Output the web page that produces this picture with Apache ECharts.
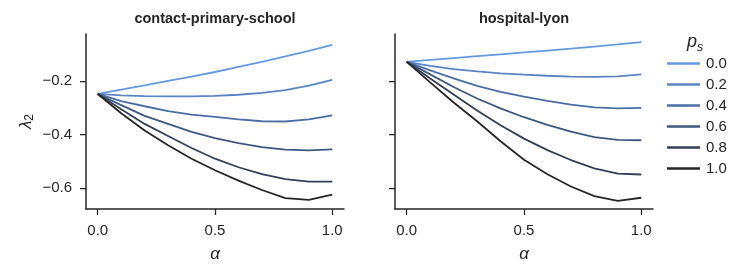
<!DOCTYPE html>
<html>
<head>
<meta charset="utf-8">
<script src="https://cdn.jsdelivr.net/npm/echarts@6/dist/echarts.min.js"></script>
<style>
html,body{margin:0;padding:0;background:#fff;}
#chart{width:747px;height:277px;}
</style>
</head>
<body>
<div id="chart"></div>
<script>
// ---- data ----
const alpha = [0, 0.1, 0.2, 0.3, 0.4, 0.5, 0.6, 0.7, 0.8, 0.9, 1.0];
const psLabels = ['0.0', '0.2', '0.4', '0.6', '0.8', '1.0'];
const panelTitles = ['contact-primary-school', 'hospital-lyon'];
const xTicks = [0, 0.5, 1.0];
const yTicks = [-0.6, -0.4, -0.2];

// contact-primary-school
const schoolPs00 = [-0.248, -0.232, -0.216, -0.199, -0.183, -0.166, -0.147, -0.128, -0.108, -0.087, -0.065];
const schoolPs02 = [-0.248, -0.253, -0.256, -0.257, -0.257, -0.255, -0.251, -0.244, -0.234, -0.217, -0.195];
const schoolPs04 = [-0.248, -0.275, -0.294, -0.312, -0.325, -0.334, -0.343, -0.350, -0.351, -0.343, -0.328];
const schoolPs06 = [-0.248, -0.290, -0.330, -0.360, -0.390, -0.413, -0.432, -0.447, -0.456, -0.459, -0.455];
const schoolPs08 = [-0.248, -0.305, -0.360, -0.405, -0.450, -0.490, -0.522, -0.548, -0.566, -0.576, -0.576];
const schoolPs10 = [-0.248, -0.320, -0.385, -0.440, -0.490, -0.533, -0.572, -0.607, -0.637, -0.644, -0.624];

// hospital-lyon
const lyonPs00 = [-0.128, -0.121, -0.114, -0.107, -0.100, -0.093, -0.086, -0.079, -0.071, -0.063, -0.054];
const lyonPs02 = [-0.128, -0.143, -0.155, -0.164, -0.171, -0.176, -0.180, -0.183, -0.184, -0.182, -0.175];
const lyonPs04 = [-0.128, -0.160, -0.190, -0.218, -0.240, -0.258, -0.274, -0.288, -0.298, -0.302, -0.300];
const lyonPs06 = [-0.128, -0.175, -0.222, -0.265, -0.302, -0.335, -0.364, -0.389, -0.409, -0.420, -0.421];
const lyonPs08 = [-0.128, -0.190, -0.250, -0.310, -0.365, -0.415, -0.458, -0.495, -0.526, -0.546, -0.549];
const lyonPs10 = [-0.128, -0.205, -0.280, -0.350, -0.425, -0.494, -0.548, -0.594, -0.630, -0.648, -0.636];

const schoolSeries = [schoolPs00, schoolPs02, schoolPs04, schoolPs06, schoolPs08, schoolPs10];
const lyonSeries = [lyonPs00, lyonPs02, lyonPs04, lyonPs06, lyonPs08, lyonPs10];

// ---- style ----
const colors = ['#6699e0', '#5a84c4', '#4b6ea4', '#3d5880', '#333f55', '#262626'];
const ink = '#262626';
const FONT = '"Liberation Sans", Arial, sans-serif';

function fmt(v) { return v.toFixed(1).replace('-', '\u2212'); }

function xAxisCfg(idx) {
  return {
    type: 'value', gridIndex: idx, min: -0.05, max: 1.05,
    name: 'α', nameLocation: 'middle', nameGap: 37,
    nameTextStyle: { fontSize: 17, fontStyle: 'italic', color: ink, fontFamily: FONT },
    axisLine: { show: true, onZero: false, lineStyle: { color: ink, width: 1.5 } },
    axisTick: { show: true, length: 6, lineStyle: { color: ink, width: 1.25 }, customValues: xTicks },
    axisLabel: { show: true, margin: 14, fontSize: 15, color: ink, fontFamily: FONT, customValues: xTicks, formatter: fmt },
    splitLine: { show: false }
  };
}
function yAxisCfg(idx, showLabels) {
  const c = {
    type: 'value', gridIndex: idx, min: -0.678, max: -0.024,
    axisLine: { show: true, onZero: false, lineStyle: { color: ink, width: 1.5 } },
    axisTick: { show: true, length: 6, lineStyle: { color: ink, width: 1.25 }, customValues: yTicks },
    axisLabel: { show: showLabels, margin: 14, fontSize: 15, color: ink, fontFamily: FONT, customValues: yTicks, formatter: fmt },
    splitLine: { show: false }
  };
  if (showLabels) {
    c.name = '{l|λ}{s|2}';
    c.nameLocation = 'middle';
    c.nameGap = 50;
    c.nameRotate = 90;
    c.nameTextStyle = {
      color: ink, fontFamily: FONT,
      rich: {
        l: { fontSize: 17, fontStyle: 'italic', color: ink, fontFamily: FONT },
        s: { fontSize: 12, color: ink, fontFamily: FONT, padding: [8, 0, 0, 0] }
      }
    };
  }
  return c;
}

const series = [];
[schoolSeries, lyonSeries].forEach((group, gi) => {
  group.forEach((vals, si) => {
    series.push({
      type: 'line', name: psLabels[si], xAxisIndex: gi, yAxisIndex: gi,
      data: alpha.map((a, k) => [a, vals[k]]),
      symbol: 'none', smooth: false, animation: false,
      lineStyle: { color: colors[si], width: 1.8 },
      itemStyle: { color: colors[si] }
    });
  });
});

const option = {
  backgroundColor: '#fff',
  animation: false,
  grid: [
    { left: 86, top: 34, width: 258, height: 175 },
    { left: 395, top: 34, width: 258, height: 175 }
  ],
  xAxis: [xAxisCfg(0), xAxisCfg(1)],
  yAxis: [yAxisCfg(0, true), yAxisCfg(1, false)],
  legend: {
    orient: 'vertical', left: 662, top: 51,
    itemWidth: 33, itemHeight: 14, itemGap: 6,
    icon: 'path://M0,0 L33,0 L33,2.5 L0,2.5 Z',
    data: psLabels,
    textStyle: { fontSize: 15, color: ink, fontFamily: FONT, padding: [0, 0, 0, 1] }
  },
  graphic: [
    { type: 'text', x: 215, y: 19, style: { text: panelTitles[0], font: 'bold 14.5px ' + FONT, fill: ink, align: 'center', verticalAlign: 'middle', textAlign: 'center', textVerticalAlign: 'middle' } },
    { type: 'text', x: 524, y: 19, style: { text: panelTitles[1], font: 'bold 14.5px ' + FONT, fill: ink, align: 'center', verticalAlign: 'middle', textAlign: 'center', textVerticalAlign: 'middle' } },
    { type: 'text', x: 692, y: 42, style: { text: 'p', font: 'italic 18px ' + FONT, fill: ink, align: 'center', verticalAlign: 'middle', textAlign: 'center', textVerticalAlign: 'middle' } },
    { type: 'text', x: 700, y: 48, style: { text: 's', font: 'italic 12.5px ' + FONT, fill: ink, align: 'center', verticalAlign: 'middle', textAlign: 'center', textVerticalAlign: 'middle' } }
  ],
  series: series
};

const chart = echarts.init(document.getElementById('chart'), null, { renderer: 'canvas' });
chart.setOption(option);
</script>
</body>
</html>
